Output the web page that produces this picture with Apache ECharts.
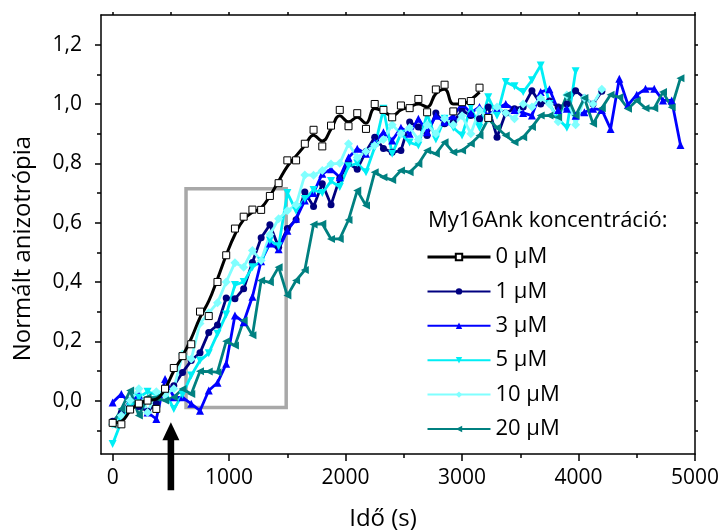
<!DOCTYPE html>
<html><head><meta charset="utf-8">
<script src="https://cdn.jsdelivr.net/npm/echarts@6/dist/echarts.min.js"></script>
<style>html,body{margin:0;padding:0;background:#fff}#c{width:723px;height:530px}</style>
</head><body><div id="c"></div>
<script>
// Time points (s)
const time = [0,75,150,225,300,375,450,525,600,675,750,825,900,975,1050,1125,1200,1275,1350,1425,1500,1575,1650,1725,1800,1875,1950,2025,2100,2175,2250,2325,2400,2475,2550,2625,2700,2775,2850,2925,3000,3075,3150,3225,3300,3375,3450,3525,3600,3675,3750,3825,3900,3975,4050,4125,4200,4275,4350,4425,4500,4575,4650,4725,4800,4875];

// 0 µM measured points and smoothed curve
const conc0 = [-0.075,-0.08,-0.03,-0.01,0.0,-0.028,0.04,0.11,0.15,0.19,0.30,0.285,0.40,0.49,0.58,0.62,0.644,0.643,0.69,0.733,0.81,0.81,0.866,0.913,0.857,0.927,0.98,0.925,0.969,0.916,1.0,0.98,0.955,0.995,0.986,1.017,0.972,1.049,1.065,0.975,1.006,1.01,1.055,0.953];
const conc0Fit = [-0.075,-0.07,-0.035,-0.01,0.0,0.005,0.04,0.10,0.15,0.21,0.28,0.335,0.41,0.49,0.56,0.61,0.635,0.65,0.69,0.74,0.79,0.825,0.86,0.895,0.875,0.915,0.96,0.94,0.955,0.935,0.985,0.975,0.96,0.98,0.99,1.0,0.99,1.035,1.05,1.0,1.0,1.015,1.04];
const conc1 = [-0.07,-0.04,0.0,-0.02,-0.036,-0.01,0.03,0.05,0.095,0.135,0.161,0.23,0.255,0.346,0.343,0.377,0.466,0.549,0.593,0.517,0.58,0.61,0.703,0.654,0.731,0.66,0.75,0.80,0.78,0.84,0.888,0.85,0.837,0.843,0.939,0.922,0.894,0.97,0.933,0.939,0.978,0.961,0.95,0.99,0.888,0.97,0.984,0.99,1.045,1.0,1.01,0.99,1.0,1.045,1.02,1.0,1.043];
const conc3 = [-0.006,0.022,-0.01,0.02,-0.04,-0.062,0.073,0.011,0.011,-0.011,-0.034,0.034,0.06,0.124,0.287,0.264,0.35,0.47,0.53,0.51,0.573,0.613,0.675,0.70,0.765,0.78,0.753,0.82,0.849,0.832,0.871,0.905,0.877,0.92,0.90,0.95,0.905,0.96,0.94,0.96,1.0,0.97,0.99,0.96,0.985,1.0,0.98,0.97,0.961,1.04,1.05,0.98,0.984,0.96,0.972,0.984,0.98,0.916,1.085,0.997,1.031,1.051,1.051,1.012,1.012,0.862];
const conc5 = [-0.146,-0.07,-0.02,0.01,0.03,0.02,0.03,-0.028,0.02,0.085,0.135,0.16,0.225,0.29,0.39,0.40,0.45,0.47,0.54,0.52,0.70,0.64,0.68,0.71,0.70,0.74,0.72,0.79,0.80,0.77,0.854,0.984,0.832,0.90,0.87,0.86,0.967,0.88,0.95,0.92,0.894,0.99,0.92,1.023,0.96,1.074,1.06,1.04,1.08,1.13,1.00,0.95,0.92,1.11];
const conc10 = [-0.08,-0.05,0.0,0.04,-0.04,0.03,0.02,0.04,0.157,0.14,0.26,0.296,0.33,0.40,0.465,0.45,0.506,0.472,0.56,0.613,0.64,0.66,0.761,0.76,0.776,0.798,0.80,0.866,0.82,0.84,0.86,0.88,0.93,0.90,0.92,0.88,0.93,0.90,0.95,0.93,0.96,0.90,0.98,0.95,0.99,0.97,0.95,1.0,0.99,1.02,1.0,0.94,1.03,0.93,1.02,1.0,1.05];
const conc20 = [-0.081,-0.028,0.034,-0.05,0.011,0.01,0.0,0.011,0.039,0.022,0.099,0.098,0.096,0.20,0.186,0.27,0.22,0.405,0.399,0.45,0.354,0.405,0.44,0.594,0.596,0.545,0.545,0.609,0.708,0.658,0.77,0.753,0.744,0.776,0.77,0.798,0.843,0.832,0.871,0.837,0.843,0.866,0.894,0.95,0.92,0.894,0.871,0.888,0.922,0.961,0.961,0.955,1.03,0.961,1.02,0.933,0.986,1.031,1.023,0.984,1.012,0.986,0.986,1.04,0.989,1.087];

const seriesNames = ['0 μM','1 μM','3 μM','5 μM','10 μM','20 μM'];
const xTicks = [0,1000,2000,3000,4000,5000];
const xMinorTicks = [500,1500,2500,3500,4500];
const xAllTicks = [0,500,1000,1500,2000,2500,3000,3500,4000,4500,5000];
const yTicks = [0,0.2,0.4,0.6,0.8,1.0,1.2];
const yMinorTicks = [-0.1,0.1,0.3,0.5,0.7,0.9,1.1];
const yAllTicks = [-0.1,0,0.1,0.2,0.3,0.4,0.5,0.6,0.7,0.8,0.9,1.0,1.1,1.2];
const zoomBox = [630, 0.714, 1490, -0.023];
const arrowPoint = [500, -0.073];

const FONT = 'Open Sans';
const pair = arr => arr.map((v, i) => [time[i], v]);

const chart = echarts.init(document.getElementById('c'), null, {renderer: 'canvas'});

const baseAxis = {min: -100, max: 5000, splitLine: {show: false}};
const baseY = {min: -0.18, max: 1.3, splitLine: {show: false}};
const lineCol = {color: '#000', width: 1.5};

function lineSeries(name, arr, color, symbol, size, rotate) {
  return {
    name, type: 'line', data: pair(arr), symbol, symbolSize: size, symbolRotate: rotate || 0,
    showSymbol: true, lineStyle: {color, width: 2.8}, itemStyle: {color}, z: 3
  };
}

const option = {
  animation: false,
  backgroundColor: '#fff',
  textStyle: {fontFamily: FONT},
  grid: {left: 101, right: 28, top: 15, bottom: 76, outerBoundsMode: 'none'},
  title: {
    text: 'My16Ank koncentráció:', left: 428, top: 210, padding: 0,
    textStyle: {fontSize: 22, fontWeight: 'normal', fontFamily: FONT, color: '#000'}
  },
  legend: {
    orient: 'vertical', left: 426, top: 246, itemWidth: 63, itemHeight: 8, itemGap: 12.4,
    selectedMode: false, padding: 0,
    textStyle: {fontSize: 22, fontFamily: FONT, color: '#000', lineHeight: 22},
    data: [{name: seriesNames[0], lineStyle: {opacity: 1, width: 3, color: '#000'}}, seriesNames[1], seriesNames[2], seriesNames[3], seriesNames[4], seriesNames[5]]
  },
  xAxis: [
    Object.assign({}, baseAxis, {
      type: 'value', position: 'bottom', name: 'Idő (s)', nameLocation: 'middle', nameGap: 53,
      nameTextStyle: {fontSize: 24, fontFamily: FONT, color: '#000', padding: [0, 30, 0, 0]},
      axisLine: {show: true, onZero: false, lineStyle: lineCol},
      axisTick: {show: true, customValues: xTicks, length: 7, lineStyle: lineCol},
      axisLabel: {customValues: xTicks, fontSize: 21, fontFamily: FONT, color: '#000', margin: 14,
        formatter: v => String(Math.round(v))}
    }),
    Object.assign({}, baseAxis, {
      type: 'value', position: 'bottom',
      axisLine: {show: false, onZero: false},
      axisTick: {show: true, customValues: xMinorTicks, length: 4, lineStyle: lineCol},
      axisLabel: {show: false}
    }),
    Object.assign({}, baseAxis, {
      type: 'value', position: 'top',
      axisLine: {show: true, onZero: false, lineStyle: lineCol},
      axisTick: {show: true, customValues: xAllTicks, length: 3, lineStyle: lineCol},
      axisLabel: {show: false}
    })
  ],
  yAxis: [
    Object.assign({}, baseY, {
      type: 'value', position: 'left', name: 'Normált anizotrópia', nameLocation: 'middle', nameGap: 66,
      nameTextStyle: {fontSize: 24, fontFamily: FONT, color: '#000', padding: [0, 28, 0, 0]},
      axisLine: {show: true, onZero: false, lineStyle: lineCol},
      axisTick: {show: true, customValues: yTicks, length: 6, lineStyle: lineCol},
      axisLabel: {customValues: yTicks, fontSize: 21, fontFamily: FONT, color: '#000', margin: 19,
        formatter: v => v.toFixed(1).replace('.', ',')}
    }),
    Object.assign({}, baseY, {
      type: 'value', position: 'left',
      axisLine: {show: false, onZero: false},
      axisTick: {show: true, customValues: yMinorTicks, length: 4, lineStyle: lineCol},
      axisLabel: {show: false}
    }),
    Object.assign({}, baseY, {
      type: 'value', position: 'right',
      axisLine: {show: true, onZero: false, lineStyle: lineCol},
      axisTick: {show: true, customValues: yAllTicks, length: 3, lineStyle: lineCol},
      axisLabel: {show: false}
    })
  ],
  series: [
    {
      name: 'zoomBox', type: 'custom', clip: false, silent: true, z: 2,
      data: [zoomBox],
      renderItem: (params, api) => {
        const p0 = api.coord([api.value(0), api.value(1)]);
        const p1 = api.coord([api.value(2), api.value(3)]);
        return {type: 'rect', shape: {x: p0[0], y: p0[1], width: p1[0] - p0[0], height: p1[1] - p0[1]},
          style: {fill: 'none', stroke: '#a8a8a8', lineWidth: 3.5}};
      }
    },
    {
      name: 'fit0', type: 'line', data: pair(conc0Fit), smooth: 0.45, showSymbol: false, symbol: 'none',
      lineStyle: {color: '#000', width: 3}, z: 4, silent: true
    },
    {
      name: seriesNames[0], type: 'line', data: pair(conc0), symbol: 'rect', symbolSize: 7, showSymbol: true,
      lineStyle: {color: '#000', width: 3, opacity: 0},
      itemStyle: {color: '#fff', borderColor: '#000', borderWidth: 1}, z: 5
    },
    lineSeries(seriesNames[1], conc1, '#000080', 'circle', 7),
    lineSeries(seriesNames[2], conc3, '#0000ff', 'triangle', 8),
    lineSeries(seriesNames[3], conc5, '#00eef5', 'triangle', 8, 180),
    lineSeries(seriesNames[4], conc10, '#80ffff', 'diamond', 9),
    lineSeries(seriesNames[5], conc20, '#008080', 'triangle', 8, 90)
  ]
};
chart.setOption(option);

const tip = chart.convertToPixel({xAxisIndex: 0, yAxisIndex: 0}, arrowPoint);
chart.setOption({
  graphic: [{
    type: 'group', children: [
      {type: 'polygon', shape: {points: [[tip[0], tip[1]], [tip[0] - 8.5, tip[1] + 18], [tip[0] + 8.5, tip[1] + 18]]}, style: {fill: '#000'}},
      {type: 'rect', shape: {x: tip[0] - 3.3, y: tip[1] + 16, width: 6.6, height: 52}, style: {fill: '#000'}}
    ]
  }]
});
</script>
</body></html>
